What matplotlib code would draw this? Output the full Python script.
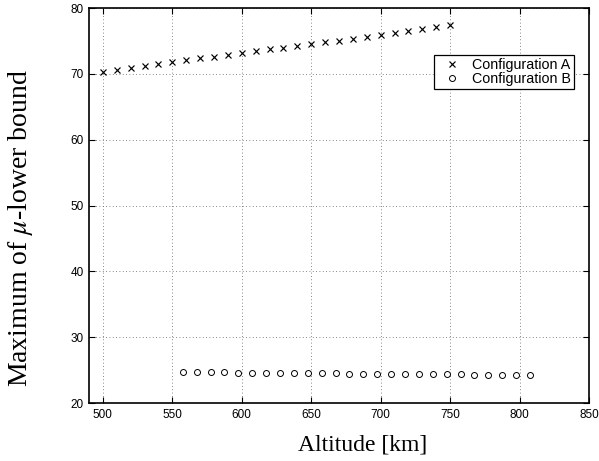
import numpy as np
import matplotlib
matplotlib.use("Agg")
import matplotlib.pyplot as plt

alt_a = [500, 510, 520, 530, 540, 550, 560, 570, 580, 590, 600, 610, 620,
         630, 640, 650, 660, 670, 680, 690, 700, 710, 720, 730, 740, 750]
mu_a = [70.25, 70.55, 70.85, 71.15, 71.45, 71.75, 72.05, 72.35, 72.6, 72.9,
        73.15, 73.4, 73.7, 73.95, 74.25, 74.5, 74.8, 75.05, 75.35, 75.6,
        75.9, 76.2, 76.5, 76.8, 77.1, 77.45]

alt_b = [557.5, 567.5, 577.5, 587.5, 597.5, 607.5, 617.5, 627.5, 637.5, 647.5,
         657.5, 667.5, 677.5, 687.5, 697.5, 707.5, 717.5, 727.5, 737.5, 747.5,
         757.5, 767.5, 777.5, 787.5, 797.5, 807.5]
mu_b = [24.68, 24.67, 24.65, 24.64, 24.62, 24.6, 24.58, 24.57, 24.55, 24.53,
        24.51, 24.5, 24.48, 24.46, 24.44, 24.43, 24.41, 24.39, 24.38, 24.36,
        24.34, 24.33, 24.31, 24.29, 24.28, 24.26]

xticks = [500, 550, 600, 650, 700, 750, 800, 850]
yticks = [20, 30, 40, 50, 60, 70, 80]

plt.rcParams['font.family'] = ['Liberation Sans', 'DejaVu Sans']
plt.rcParams['mathtext.fontset'] = 'stix'

fig = plt.figure(figsize=(5.99, 4.61), dpi=100)
ax = fig.add_axes([0.1486, 0.1258, 0.8347, 0.8568])

ax.plot(alt_a, mu_a, linestyle='none', marker='x', color='black',
        markersize=4, markeredgewidth=0.85, label='Configuration A')
ax.plot(alt_b, mu_b, linestyle='none', marker='o', markerfacecolor='none',
        color='black', markersize=4.3, markeredgewidth=0.7, label='Configuration B')

ax.set_xlim(490, 850)
ax.set_ylim(20, 80)
ax.set_xticks(xticks)
ax.set_yticks(yticks)
ax.tick_params(direction='in', top=True, right=True, labelsize=8.5, length=4,
               width=0.8, pad=4)
ax.grid(True, linestyle=(0, (1, 3)), color='#606060', linewidth=0.6)
for s in ax.spines.values():
    s.set_linewidth(1.2)

ax.set_xlabel('Altitude [km]', family=['Liberation Serif'], fontsize=17)
ax.xaxis.set_label_coords(0.548, -0.081)
ax.set_ylabel(r'Maximum of $\mu$-lower bound', family=['Liberation Serif'],
              fontsize=20)
ax.yaxis.set_label_coords(-0.108, 0.443)

leg = ax.legend(loc='upper right', bbox_to_anchor=(0.97, 0.881),
                borderaxespad=0, fontsize=10.3, fancybox=False, framealpha=1,
                edgecolor='black', handlelength=2.1, handletextpad=0.35,
                borderpad=0.2, labelspacing=0.02)
leg.get_frame().set_linewidth(0.9)

fig.savefig('out.png', dpi=100)
